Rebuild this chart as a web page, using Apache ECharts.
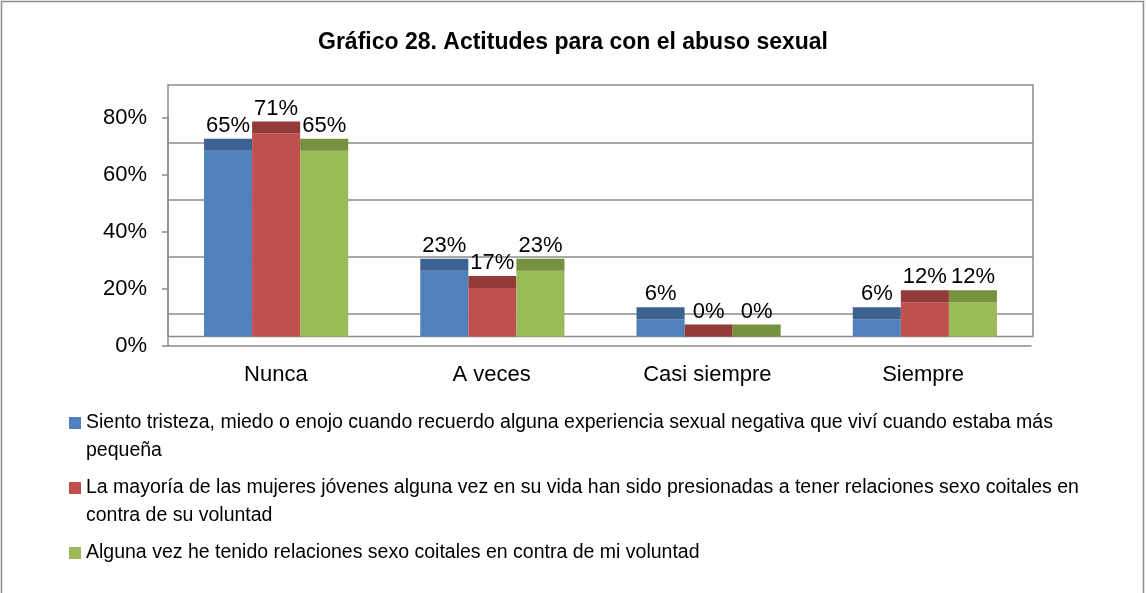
<!DOCTYPE html>
<html>
<head>
<meta charset="utf-8">
<script src="https://cdn.jsdelivr.net/npm/echarts@6/dist/echarts.min.js"></script>
<style>
html, body { margin: 0; padding: 0; background: #fff; }
#chart { width: 1146px; height: 593px; }
</style>
</head>
<body>
<div id="chart"></div>
<script>
const categories = ['Nunca', 'A veces', 'Casi siempre', 'Siempre']
const seriesNames = [
  'Siento tristeza, miedo o enojo cuando recuerdo alguna experiencia sexual negativa que viví cuando estaba más pequeña',
  'La mayoría de las mujeres jóvenes alguna vez en su vida han sido presionadas a tener relaciones sexo coitales en contra de su voluntad',
  'Alguna vez he tenido relaciones sexo coitales en contra de mi voluntad'
]
const tristeza = [65, 23, 6, 6]
const presionadas = [71, 17, 0, 12]
const contraVoluntad = [65, 23, 0, 12]
const yTicks = [0, 20, 40, 60, 80]

const frontColors = ['#4F81BD', '#C0504D', '#9BBB59']
const topColors = ['#3B6291', '#923B39', '#77913F']
const font = 'Liberation Sans, Arial, sans-serif'
const gray = '#8c8c8c'

const chart = echarts.init(document.getElementById('chart'))

// frente de la barra + cara superior (efecto 3D de Excel)
function renderBar(params, api) {
  const i = params.seriesIndex
  const cat = api.value(0)
  const val = api.value(1)
  const w = api.size([1, 0])[0] * 2 / 9
  const top = api.coord([cat, val])
  const base = api.coord([cat, 0])
  const x = top[0] - w * 1.5 + i * w
  return {
    type: 'group',
    children: [
      { type: 'rect', shape: { x: x, y: top[1], width: w, height: base[1] - top[1] }, style: { fill: frontColors[i] } },
      { type: 'rect', shape: { x: x, y: top[1] - 12, width: w, height: 12 }, style: { fill: topColors[i] } },
      {
        type: 'text',
        style: {
          text: val + '%', x: x + w / 2, y: top[1] - 14,
          align: 'center', verticalAlign: 'bottom',
          fontSize: 22, fontFamily: font, fill: '#000'
        }
      }
    ]
  }
}

function barSeries(name, values) {
  const i = seriesNames.indexOf(name)
  return {
    name: name,
    type: 'custom',
    xAxisIndex: 0,
    yAxisIndex: 0,
    z: 3,
    itemStyle: { color: frontColors[i] },
    encode: { x: 0, y: 1 },
    data: values.map((v, k) => [k, v]),
    renderItem: renderBar
  }
}

const hiddenAxis = { show: true, axisLine: { show: false }, axisTick: { show: false }, axisLabel: { show: false } }

chart.setOption({
  animation: false,
  backgroundColor: '#fff',
  title: {
    text: 'Gráfico 28. Actitudes para con el abuso sexual',
    left: 'center',
    top: 26,
    textStyle: { fontSize: 23, fontWeight: 'bold', fontFamily: font, color: '#000' }
  },
  graphic: [{
    type: 'rect',
    shape: { x: 1.5, y: 1.5, width: 1142, height: 620 },
    style: { fill: 'none', stroke: gray, lineWidth: 1.5 },
    silent: true
  }],
  legend: {
    orient: 'vertical',
    left: 69,
    top: 381,
    height: 240,
    padding: 0,
    itemGap: -19,
    itemWidth: 12,
    itemHeight: 12,
    icon: 'rect',
    // línea vacía arriba para que el cuadro quede a la altura de la primera línea
    formatter: name => name === seriesNames[2] ? '\n' + name + '\n ' : '\n' + name,
    textStyle: {
      fontSize: 19.5, fontFamily: font, color: '#000',
      lineHeight: 28, width: 1035, overflow: 'break'
    },
    data: seriesNames
  },
  grid: [
    // pared del fondo y barras
    { left: 168, right: 113, top: 85, bottom: 256.5, show: true, borderColor: gray, borderWidth: 1.5, backgroundColor: 'transparent' },
    // eje frontal con etiquetas
    { left: 168, right: 115, top: 117.5, bottom: 247.5 },
    // líneas de división de la pared
    { left: 168, right: 113, top: 142.5, bottom: 222.5 }
  ],
  xAxis: [
    { type: 'category', gridIndex: 0, data: categories, show: false },
    {
      type: 'category', gridIndex: 1, data: categories,
      axisLine: { lineStyle: { color: gray, width: 1.5 } },
      axisTick: { length: 5, lineStyle: { color: gray, width: 1.5 } },
      axisLabel: { fontSize: 22, fontFamily: font, color: '#000', margin: 18 }
    },
    Object.assign({ type: 'category', gridIndex: 2, data: categories }, hiddenAxis)
  ],
  yAxis: [
    { type: 'value', gridIndex: 0, min: 0, max: 88, show: false },
    {
      type: 'value', gridIndex: 1,
      min: yTicks[0], max: yTicks[yTicks.length - 1], interval: yTicks[1] - yTicks[0],
      axisLine: { show: true, lineStyle: { color: gray, width: 1.5 } },
      axisTick: { show: true, length: 6, lineStyle: { color: gray, width: 1.5 } },
      axisLabel: { fontSize: 22, fontFamily: font, color: '#000', margin: 21, formatter: '{value}%' },
      splitLine: { show: false }
    },
    Object.assign({
      type: 'value', gridIndex: 2,
      min: yTicks[0], max: yTicks[yTicks.length - 1], interval: yTicks[1] - yTicks[0],
      splitLine: { show: true, showMinLine: false, lineStyle: { color: gray, width: 1.5 } }
    }, hiddenAxis)
  ],
  series: [
    barSeries(seriesNames[0], tristeza),
    barSeries(seriesNames[1], presionadas),
    barSeries(seriesNames[2], contraVoluntad)
  ]
})
</script>
</body>
</html>
